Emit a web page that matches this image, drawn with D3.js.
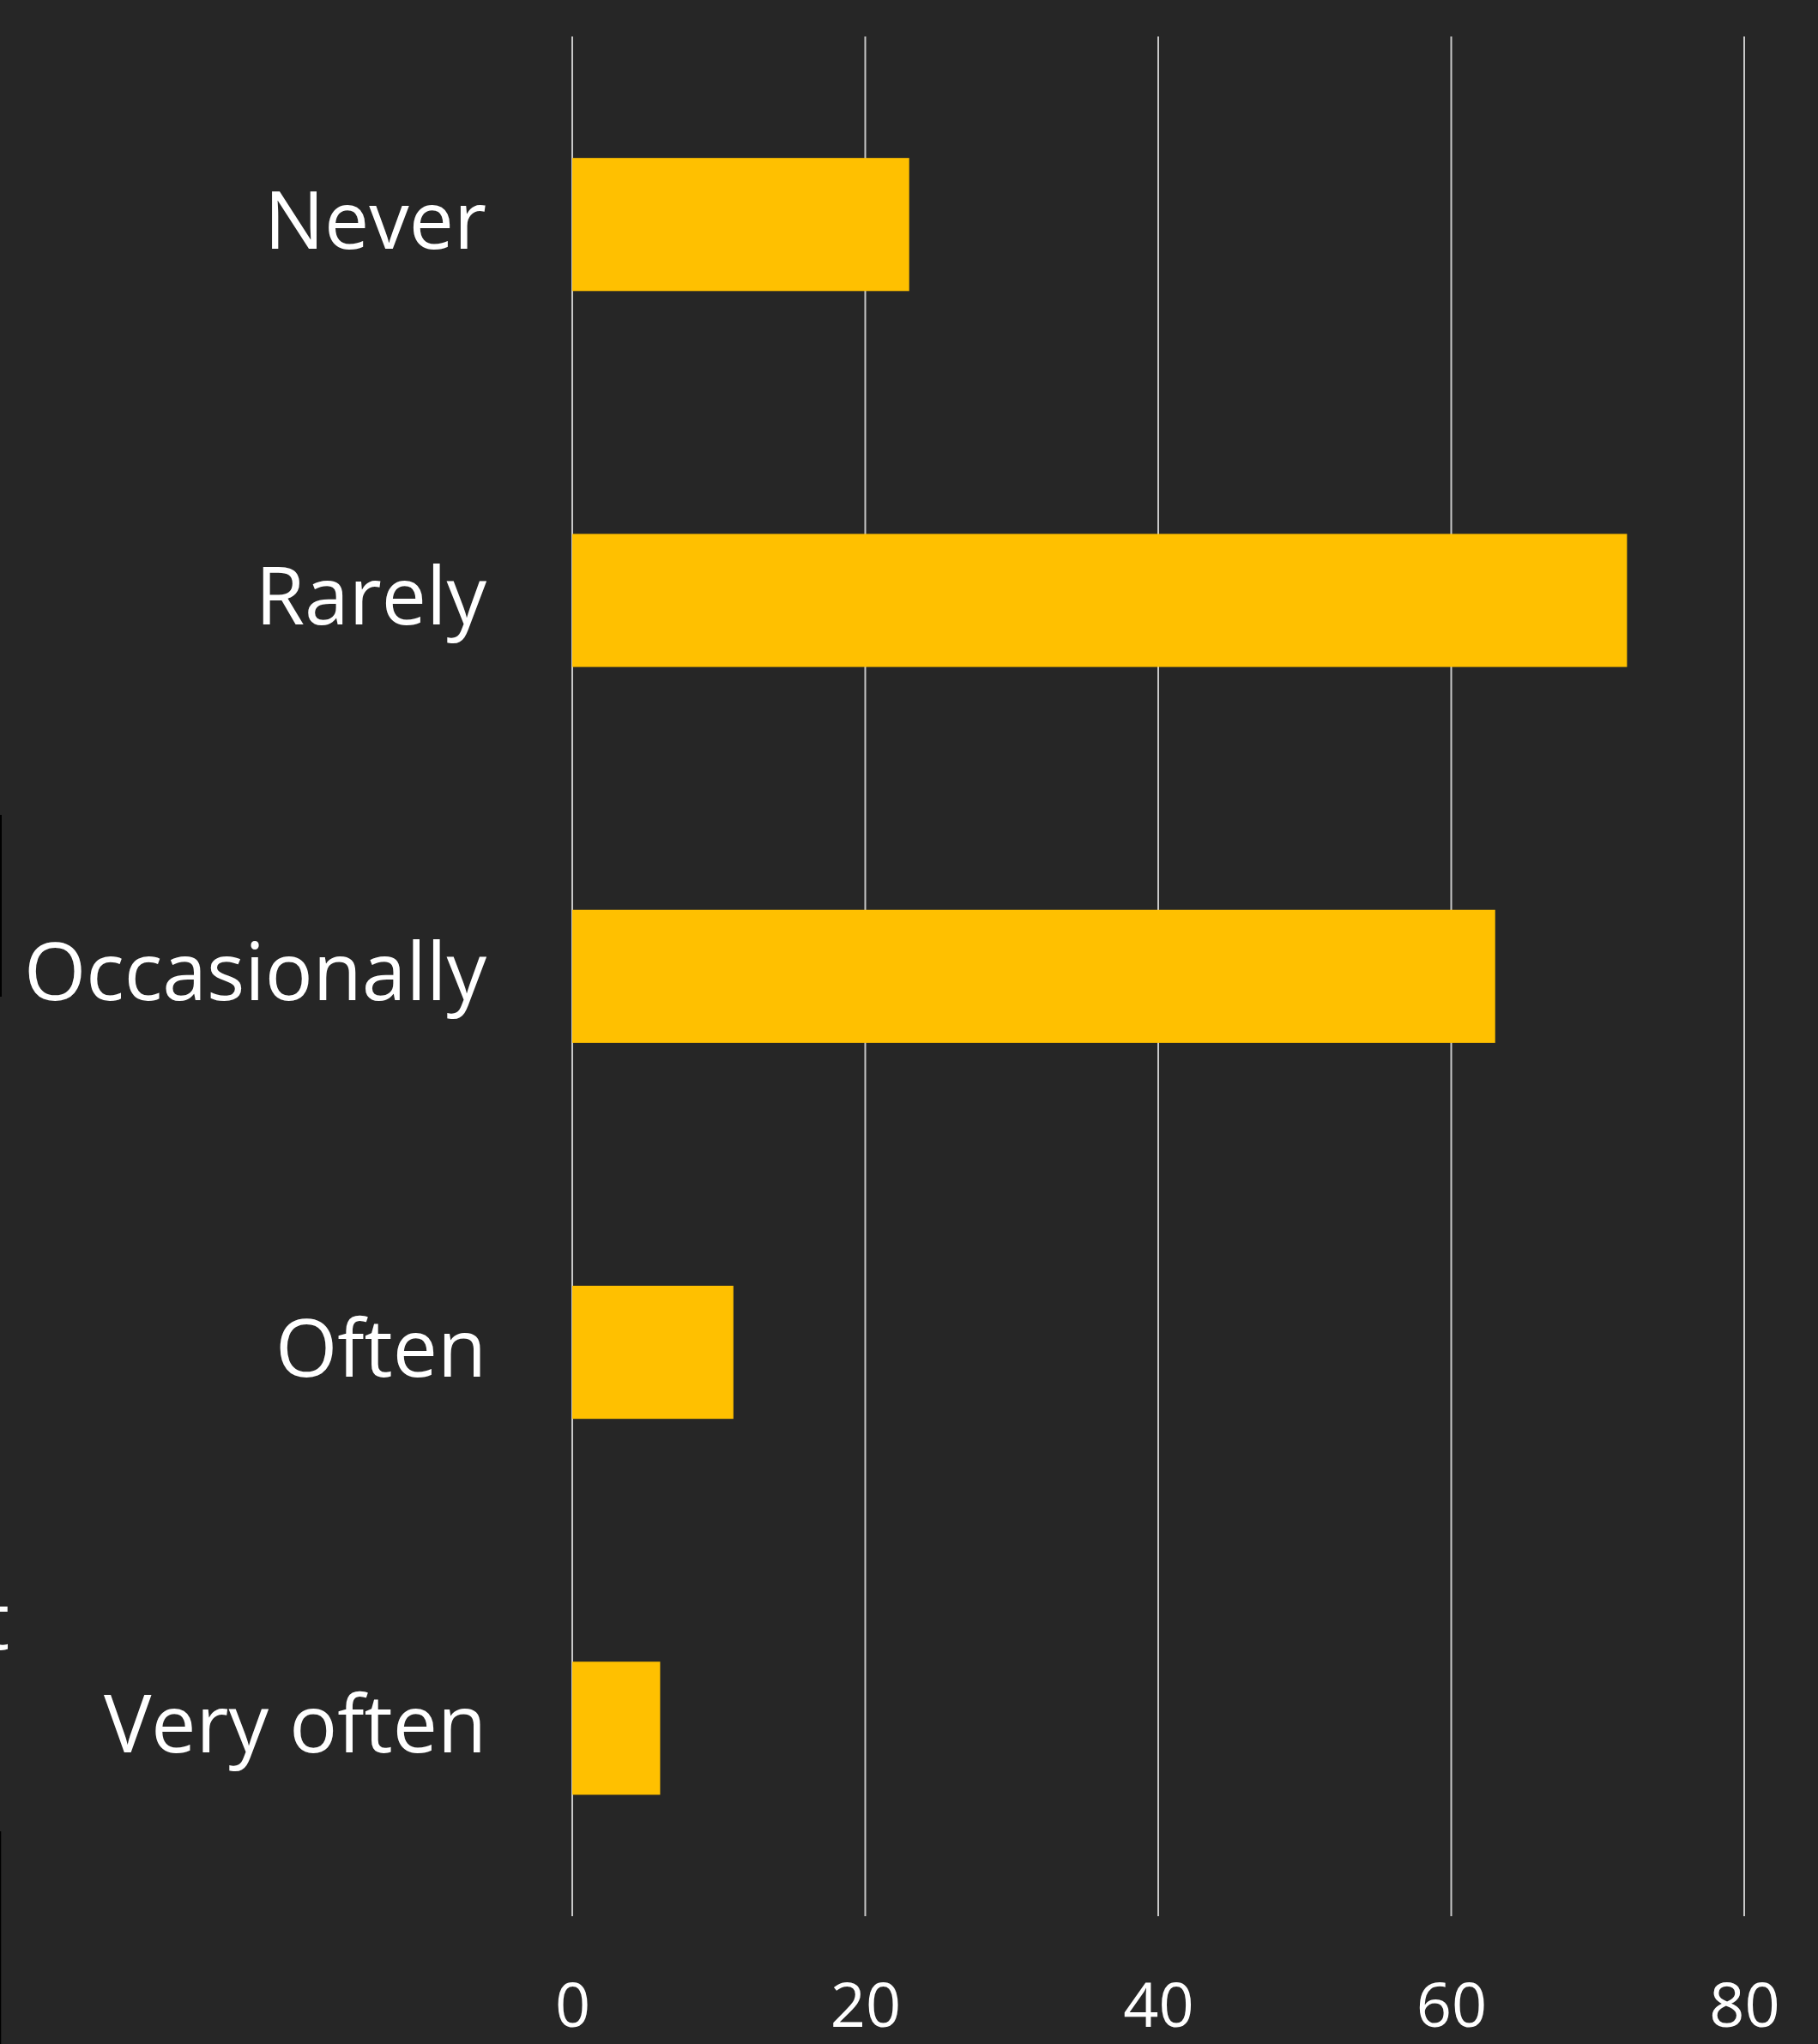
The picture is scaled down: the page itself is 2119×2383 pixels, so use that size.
<!DOCTYPE html>
<html><head><meta charset="utf-8">
<script src="https://cdn.jsdelivr.net/npm/d3@7"></script>
<style>html,body{margin:0;padding:0;background:#262626;overflow:hidden}</style>
</head><body>
<svg id="c" width="2119" height="2383"></svg>
<script>
const categories = ["Never","Rarely","Occasionally","Often","Very often"];
const values = [23, 72, 63, 11, 6];
const tickValues = [0, 20, 40, 60, 80];

const W = 2119, H = 2383;
const svg = d3.select("#c");
svg.append("rect").attr("width", W).attr("height", H).attr("fill", "#262626");

const x = d3.scaleLinear().domain([0, 80]).range([667, 2033]);
const y = d3.scaleBand().domain(categories).range([42.6, 2234])
  .paddingInner(0.646).paddingOuter(0.323);

// gridlines
svg.append("g").selectAll("line").data(tickValues).join("line")
  .attr("x1", d => x(d)).attr("x2", d => x(d))
  .attr("y1", 42.6).attr("y2", 2234)
  .attr("stroke", "#c8c8c8").attr("stroke-width", 2);

// bars
svg.append("g").selectAll("rect").data(categories).join("rect")
  .attr("x", x(0)).attr("y", d => y(d))
  .attr("width", (d, i) => x(values[i]) - x(0))
  .attr("height", y.bandwidth())
  .attr("fill", "#FFC000");

// category labels
svg.append("g").selectAll("text").data(categories).join("text")
  .attr("x", 567).attr("y", d => y(d) + y.bandwidth() / 2 + 28)
  .attr("text-anchor", "end")
  .attr("font-family", "'Open Sans', sans-serif")
  .attr("font-size", 93).attr("fill", "#ffffff")
  .text(d => d);

// x axis tick labels
const xAxis = d3.axisBottom(x).tickValues(tickValues).tickSize(0).tickPadding(0);
const gx = svg.append("g").attr("transform", "translate(0,2363)").call(xAxis);
gx.select(".domain").remove();
gx.selectAll("text").attr("dy", 0).attr("y", 0)
  .attr("font-family", "'Open Sans', sans-serif")
  .attr("font-size", 72).attr("fill", "#ffffff");

// cropped slide fragments at the edges
svg.append("line").attr("x1", 1).attr("x2", 1).attr("y1", 950).attr("y2", 1162)
  .attr("stroke", "#000").attr("stroke-width", 2);
svg.append("line").attr("x1", 0.5).attr("x2", 0.5).attr("y1", 2135).attr("y2", 2383)
  .attr("stroke", "#000").attr("stroke-width", 1.5);
svg.append("text").attr("x", -22).attr("y", 1923)
  .attr("font-family", "'Open Sans', sans-serif").attr("font-size", 93)
  .attr("fill", "#ffffff").text("t");
</script>
</body></html>
